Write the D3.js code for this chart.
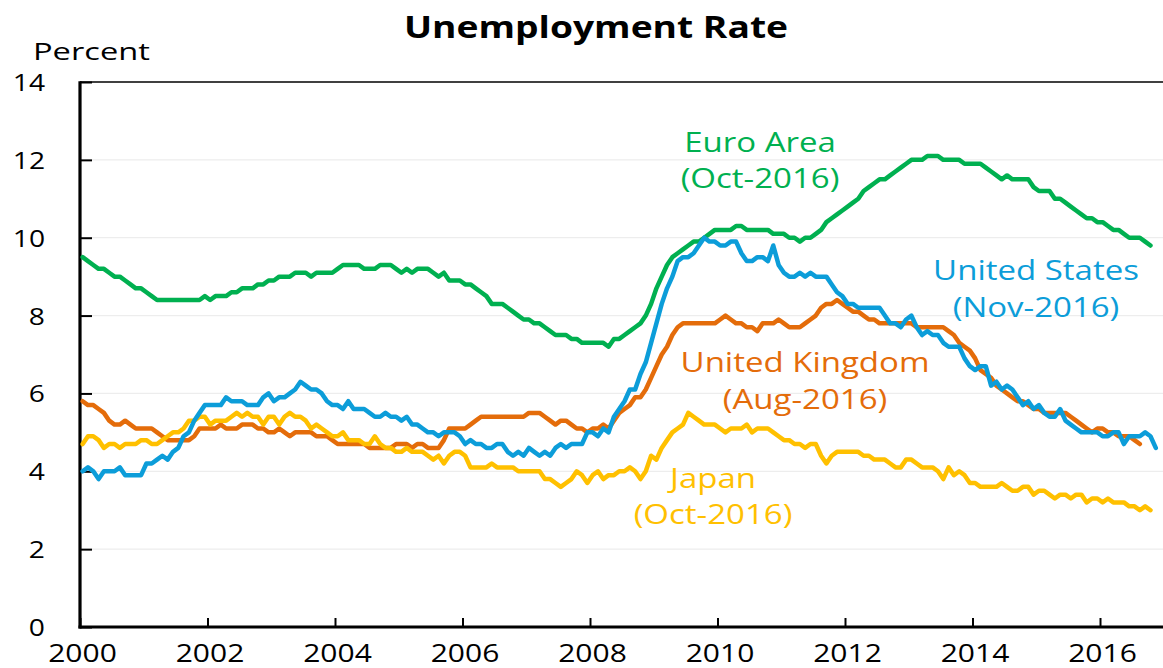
<!DOCTYPE html>
<html>
<head>
<meta charset="utf-8">
<script src="https://cdn.jsdelivr.net/npm/d3@7"></script>
<style>
  html, body { margin: 0; padding: 0; background: #ffffff; }
  svg { display: block; }
  text { font-family: "Open Sans", "Noto Sans", sans-serif; }
</style>
</head>
<body>
<svg id="chart" width="1163" height="668"></svg>
<script>
// ---------------- data (monthly, starting January 2000) ----------------
const startYear = 2000;
const xTickYears = [2000, 2002, 2004, 2006, 2008, 2010, 2012, 2014, 2016];
const yTickValues = [0, 2, 4, 6, 8, 10, 12, 14];

const euroArea = [
  9.5, 9.4, 9.3, 9.2, 9.2, 9.1, 9.0, 9.0, 8.9, 8.8, 8.7, 8.7,
  8.6, 8.5, 8.4, 8.4, 8.4, 8.4, 8.4, 8.4, 8.4, 8.4, 8.4, 8.5,
  8.4, 8.5, 8.5, 8.5, 8.6, 8.6, 8.7, 8.7, 8.7, 8.8, 8.8, 8.9,
  8.9, 9.0, 9.0, 9.0, 9.1, 9.1, 9.1, 9.0, 9.1, 9.1, 9.1, 9.1,
  9.2, 9.3, 9.3, 9.3, 9.3, 9.2, 9.2, 9.2, 9.3, 9.3, 9.3, 9.2,
  9.1, 9.2, 9.1, 9.2, 9.2, 9.2, 9.1, 9.0, 9.1, 8.9, 8.9, 8.9,
  8.8, 8.8, 8.7, 8.6, 8.5, 8.3, 8.3, 8.3, 8.2, 8.1, 8.0, 7.9,
  7.9, 7.8, 7.8, 7.7, 7.6, 7.5, 7.5, 7.5, 7.4, 7.4, 7.3, 7.3,
  7.3, 7.3, 7.3, 7.2, 7.4, 7.4, 7.5, 7.6, 7.7, 7.8, 8.0, 8.3,
  8.7, 9.0, 9.3, 9.5, 9.6, 9.7, 9.8, 9.9, 9.9, 10.0, 10.1, 10.2,
  10.2, 10.2, 10.2, 10.3, 10.3, 10.2, 10.2, 10.2, 10.2, 10.2, 10.1, 10.1,
  10.1, 10.0, 10.0, 9.9, 10.0, 10.0, 10.1, 10.2, 10.4, 10.5, 10.6, 10.7,
  10.8, 10.9, 11.0, 11.2, 11.3, 11.4, 11.5, 11.5, 11.6, 11.7, 11.8, 11.9,
  12.0, 12.0, 12.0, 12.1, 12.1, 12.1, 12.0, 12.0, 12.0, 12.0, 11.9, 11.9,
  11.9, 11.9, 11.8, 11.7, 11.6, 11.5, 11.6, 11.5, 11.5, 11.5, 11.5, 11.3,
  11.2, 11.2, 11.2, 11.0, 11.0, 10.9, 10.8, 10.7, 10.6, 10.5, 10.5, 10.4,
  10.4, 10.3, 10.2, 10.2, 10.1, 10.0, 10.0, 10.0, 9.9, 9.8
];

const unitedStates = [
  4.0, 4.1, 4.0, 3.8, 4.0, 4.0, 4.0, 4.1, 3.9, 3.9, 3.9, 3.9,
  4.2, 4.2, 4.3, 4.4, 4.3, 4.5, 4.6, 4.9, 5.0, 5.3, 5.5, 5.7,
  5.7, 5.7, 5.7, 5.9, 5.8, 5.8, 5.8, 5.7, 5.7, 5.7, 5.9, 6.0,
  5.8, 5.9, 5.9, 6.0, 6.1, 6.3, 6.2, 6.1, 6.1, 6.0, 5.8, 5.7,
  5.7, 5.6, 5.8, 5.6, 5.6, 5.6, 5.5, 5.4, 5.4, 5.5, 5.4, 5.4,
  5.3, 5.4, 5.2, 5.2, 5.1, 5.0, 5.0, 4.9, 5.0, 5.0, 5.0, 4.9,
  4.7, 4.8, 4.7, 4.7, 4.6, 4.6, 4.7, 4.7, 4.5, 4.4, 4.5, 4.4,
  4.6, 4.5, 4.4, 4.5, 4.4, 4.6, 4.7, 4.6, 4.7, 4.7, 4.7, 5.0,
  5.0, 4.9, 5.1, 5.0, 5.4, 5.6, 5.8, 6.1, 6.1, 6.5, 6.8, 7.3,
  7.8, 8.3, 8.7, 9.0, 9.4, 9.5, 9.5, 9.6, 9.8, 10.0, 9.9, 9.9,
  9.8, 9.8, 9.9, 9.9, 9.6, 9.4, 9.4, 9.5, 9.5, 9.4, 9.8, 9.3,
  9.1, 9.0, 9.0, 9.1, 9.0, 9.1, 9.0, 9.0, 9.0, 8.8, 8.6, 8.5,
  8.3, 8.3, 8.2, 8.2, 8.2, 8.2, 8.2, 8.0, 7.8, 7.8, 7.7, 7.9,
  8.0, 7.7, 7.5, 7.6, 7.5, 7.5, 7.3, 7.2, 7.2, 7.2, 6.9, 6.7,
  6.6, 6.7, 6.7, 6.2, 6.3, 6.1, 6.2, 6.1, 5.9, 5.7, 5.8, 5.6,
  5.7, 5.5, 5.4, 5.4, 5.6, 5.3, 5.2, 5.1, 5.0, 5.0, 5.0, 5.0,
  4.9, 4.9, 5.0, 5.0, 4.7, 4.9, 4.9, 4.9, 5.0, 4.9, 4.6
];

const unitedKingdom = [
  5.8, 5.7, 5.7, 5.6, 5.5, 5.3, 5.2, 5.2, 5.3, 5.2, 5.1, 5.1,
  5.1, 5.1, 5.0, 4.9, 4.8, 4.8, 4.8, 4.8, 4.8, 4.9, 5.1, 5.1,
  5.1, 5.1, 5.2, 5.1, 5.1, 5.1, 5.2, 5.2, 5.2, 5.1, 5.1, 5.0,
  5.0, 5.1, 5.0, 4.9, 5.0, 5.0, 5.0, 5.0, 4.9, 4.9, 4.9, 4.8,
  4.7, 4.7, 4.7, 4.7, 4.7, 4.7, 4.6, 4.6, 4.6, 4.6, 4.6, 4.7,
  4.7, 4.7, 4.6, 4.7, 4.7, 4.6, 4.6, 4.6, 4.8, 5.1, 5.1, 5.1,
  5.1, 5.2, 5.3, 5.4, 5.4, 5.4, 5.4, 5.4, 5.4, 5.4, 5.4, 5.4,
  5.5, 5.5, 5.5, 5.4, 5.3, 5.2, 5.3, 5.3, 5.2, 5.1, 5.1, 5.0,
  5.1, 5.1, 5.2, 5.1, 5.3, 5.5, 5.6, 5.7, 5.9, 5.9, 6.1, 6.4,
  6.7, 7.0, 7.2, 7.5, 7.7, 7.8, 7.8, 7.8, 7.8, 7.8, 7.8, 7.8,
  7.9, 8.0, 7.9, 7.8, 7.8, 7.7, 7.7, 7.6, 7.8, 7.8, 7.8, 7.9,
  7.8, 7.7, 7.7, 7.7, 7.8, 7.9, 8.0, 8.2, 8.3, 8.3, 8.4, 8.3,
  8.2, 8.1, 8.1, 8.0, 7.9, 7.9, 7.8, 7.8, 7.8, 7.8, 7.8, 7.8,
  7.8, 7.7, 7.7, 7.7, 7.7, 7.7, 7.7, 7.6, 7.5, 7.3, 7.2, 7.1,
  6.9, 6.6, 6.5, 6.4, 6.2, 6.1, 6.0, 5.9, 5.8, 5.8, 5.7, 5.6,
  5.6, 5.5, 5.5, 5.5, 5.5, 5.5, 5.4, 5.3, 5.2, 5.1, 5.0, 5.1,
  5.1, 5.0, 5.0, 4.9, 4.9, 4.9, 4.8, 4.7
];

const japan = [
  4.7, 4.9, 4.9, 4.8, 4.6, 4.7, 4.7, 4.6, 4.7, 4.7, 4.7, 4.8,
  4.8, 4.7, 4.7, 4.8, 4.9, 5.0, 5.0, 5.1, 5.3, 5.3, 5.4, 5.4,
  5.2, 5.3, 5.3, 5.3, 5.4, 5.5, 5.4, 5.5, 5.4, 5.4, 5.2, 5.4,
  5.4, 5.2, 5.4, 5.5, 5.4, 5.4, 5.3, 5.1, 5.2, 5.1, 5.0, 4.9,
  4.9, 5.0, 4.8, 4.8, 4.8, 4.7, 4.7, 4.9, 4.7, 4.6, 4.6, 4.5,
  4.5, 4.6, 4.5, 4.5, 4.5, 4.4, 4.3, 4.4, 4.2, 4.4, 4.5, 4.5,
  4.4, 4.1, 4.1, 4.1, 4.1, 4.2, 4.1, 4.1, 4.1, 4.1, 4.0, 4.0,
  4.0, 4.0, 4.0, 3.8, 3.8, 3.7, 3.6, 3.7, 3.8, 4.0, 3.9, 3.7,
  3.9, 4.0, 3.8, 3.9, 3.9, 4.0, 4.0, 4.1, 4.0, 3.8, 4.0, 4.4,
  4.3, 4.6, 4.8, 5.0, 5.1, 5.2, 5.5, 5.4, 5.3, 5.2, 5.2, 5.2,
  5.1, 5.0, 5.1, 5.1, 5.1, 5.2, 5.0, 5.1, 5.1, 5.1, 5.0, 4.9,
  4.8, 4.8, 4.7, 4.7, 4.6, 4.7, 4.7, 4.4, 4.2, 4.4, 4.5, 4.5,
  4.5, 4.5, 4.5, 4.4, 4.4, 4.3, 4.3, 4.3, 4.2, 4.1, 4.1, 4.3,
  4.3, 4.2, 4.1, 4.1, 4.1, 4.0, 3.8, 4.1, 3.9, 4.0, 3.9, 3.7,
  3.7, 3.6, 3.6, 3.6, 3.6, 3.7, 3.6, 3.5, 3.5, 3.6, 3.6, 3.4,
  3.5, 3.5, 3.4, 3.3, 3.4, 3.4, 3.3, 3.4, 3.4, 3.2, 3.3, 3.3,
  3.2, 3.3, 3.2, 3.2, 3.2, 3.1, 3.1, 3.0, 3.1, 3.0
];

const seriesNames = ["United Kingdom", "Japan", "Euro Area", "United States"];
const seriesLastMonth = ["(Aug-2016)", "(Oct-2016)", "(Oct-2016)", "(Nov-2016)"];
const seriesValues = [unitedKingdom, japan, euroArea, unitedStates];

const titleText = "Unemployment Rate";
const yAxisTitle = "Percent";

// ---------------- styles / layout ----------------
const seriesColors = ["#E46C0A", "#FFC000", "#00B050", "#0C9DD9"];
const labelAnchors = [ // centre x, baseline of first line, baseline of second line
  [805, 372, 409],
  [713, 488, 524],
  [760, 152, 188],
  [1036, 280, 317]
];
const SX = 1.2; // horizontal stretch of the original rendering

const svg = d3.select("#chart");
const W = 1163;
const plotLeft = 80, plotRight = 1163.75, plotTop = 82, plotBottom = 627;

const x = d3.scaleLinear().domain([startYear, startYear + 17]).range([plotLeft, plotRight]);
const y = d3.scaleLinear().domain([0, 14]).range([plotBottom, plotTop]);

// gridlines
svg.append("g")
  .selectAll("line")
  .data(yTickValues.filter(v => v > 0 && v < 14))
  .join("line")
  .attr("x1", plotLeft + 12).attr("x2", W)
  .attr("y1", d => y(d)).attr("y2", d => y(d))
  .attr("stroke", "#EDEDED").attr("stroke-width", 1.2);

// y axis
const yAxis = svg.append("g")
  .attr("transform", `translate(${plotLeft},0)`)
  .call(d3.axisLeft(y).tickValues(yTickValues).tickSizeInner(-12).tickSizeOuter(0).tickFormat(d3.format("d")));
yAxis.select(".domain").remove();
yAxis.selectAll(".tick line").attr("stroke", "#000").attr("stroke-width", 2);
yAxis.selectAll(".tick text")
  .attr("x", null).attr("dy", null)
  .attr("text-anchor", "end")
  .attr("font-size", 23.5)
  .attr("fill", "#000")
  .attr("transform", `translate(-35,8.5) scale(${SX},1)`);

// x axis
const xAxis = svg.append("g")
  .attr("transform", `translate(0,${plotBottom})`)
  .call(d3.axisBottom(x).tickValues(xTickYears).tickSizeInner(-9).tickSizeOuter(0).tickFormat(d3.format("d")));
xAxis.select(".domain").remove();
xAxis.selectAll(".tick line").attr("stroke", "#000").attr("stroke-width", 2);
xAxis.selectAll(".tick text")
  .attr("y", null).attr("dy", null)
  .attr("text-anchor", "middle")
  .attr("font-size", 25)
  .attr("fill", "#000")
  .attr("transform", `translate(2,35) scale(${SX},1)`);

// frame lines
svg.append("line").attr("x1", plotLeft).attr("x2", W).attr("y1", plotTop).attr("y2", plotTop)
  .attr("stroke", "#000").attr("stroke-width", 1.6);
svg.append("line").attr("x1", plotLeft).attr("x2", plotLeft).attr("y1", plotTop - 0.8).attr("y2", plotBottom + 1.5)
  .attr("stroke", "#000").attr("stroke-width", 3.2);
svg.append("line").attr("x1", plotLeft - 1.5).attr("x2", W).attr("y1", plotBottom).attr("y2", plotBottom)
  .attr("stroke", "#000").attr("stroke-width", 3);

// series lines
const line = d3.line()
  .x((d, i) => x(startYear + (i + 0.5) / 12))
  .y(d => y(d));

svg.append("g")
  .selectAll("path")
  .data(seriesValues)
  .join("path")
  .attr("d", d => line(d))
  .attr("fill", "none")
  .attr("stroke", (d, i) => seriesColors[i])
  .attr("stroke-width", 4.5)
  .attr("stroke-linejoin", "round")
  .attr("stroke-linecap", "round");

// series labels
seriesNames.forEach((name, i) => {
  const [cx, b1, b2] = labelAnchors[i];
  svg.append("text")
    .attr("transform", `translate(${cx},${b1}) scale(${SX},1)`)
    .attr("text-anchor", "middle")
    .attr("font-size", 27.5)
    .attr("fill", seriesColors[i])
    .text(name);
  svg.append("text")
    .attr("transform", `translate(${cx},${b2}) scale(${SX},1)`)
    .attr("text-anchor", "middle")
    .attr("font-size", 27.5)
    .attr("fill", seriesColors[i])
    .text(seriesLastMonth[i]);
});

// title and axis title
svg.append("text")
  .attr("transform", `translate(596,38) scale(${SX},1)`)
  .attr("text-anchor", "middle")
  .attr("font-size", 31)
  .attr("font-weight", "bold")
  .attr("fill", "#000")
  .text(titleText);

svg.append("text")
  .attr("transform", `translate(33,60) scale(1.36,1)`)
  .attr("text-anchor", "start")
  .attr("font-size", 24)
  .attr("fill", "#000")
  .text(yAxisTitle);
</script>
</body>
</html>
